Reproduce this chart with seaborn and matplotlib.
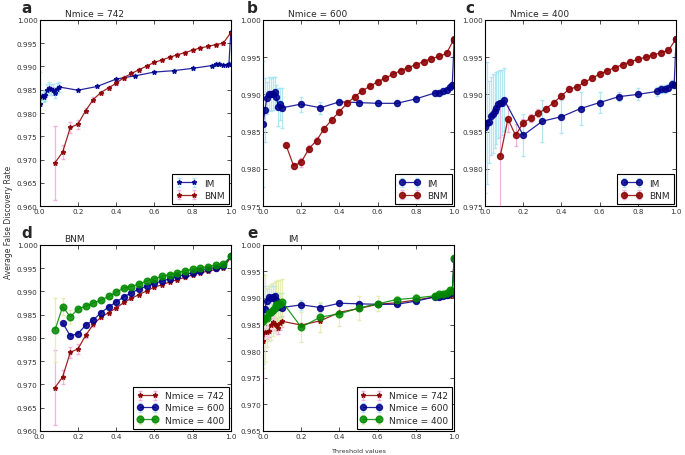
import matplotlib
matplotlib.use('Agg')
import matplotlib.pyplot as plt
import numpy as np
import seaborn as sns

# threshold grids
x_im = [0.0, 0.01, 0.02, 0.03, 0.04, 0.05, 0.06, 0.07, 0.08, 0.09, 0.10,
        0.2, 0.3, 0.4, 0.5, 0.6, 0.7, 0.8, 0.9, 0.92, 0.94, 0.96, 0.98, 0.99, 1.0]
x_bnm = [0.08, 0.12, 0.16, 0.20, 0.24, 0.28, 0.32, 0.36, 0.40, 0.44, 0.48, 0.52,
         0.56, 0.60, 0.64, 0.68, 0.72, 0.76, 0.80, 0.84, 0.88, 0.92, 0.96, 1.00]

# IM series
im742 = [0.9819, 0.9836, 0.9835, 0.9838, 0.9850, 0.9854, 0.9851, 0.9850, 0.9844, 0.9852, 0.9856,
         0.9849, 0.9857, 0.9873, 0.9880, 0.9888, 0.9891, 0.9896, 0.9902, 0.9905, 0.9906, 0.9903,
         0.9904, 0.9906, 0.9975]
im742_err = [0.0070, 0.0008, 0.0012, 0.0012, 0.0012, 0.0012, 0.0012, 0.0012, 0.0012, 0.0012, 0.0010,
             0.0003, 0.0003, 0.0003, 0.0003, 0.0003, 0.0003, 0.0003, 0.0003, 0.0003, 0.0003, 0.0003,
             0.0003, 0.0003, 0.0002]
im600 = [0.9860, 0.9879, 0.9895, 0.9901, 0.9900, 0.9901, 0.9903, 0.9897, 0.9883, 0.9887, 0.9882,
         0.9887, 0.9882, 0.9890, 0.9889, 0.9888, 0.9888, 0.9894, 0.9902, 0.9902, 0.9904, 0.9906,
         0.9910, 0.9912, 0.9973]
im600_err = [0.0085, 0.0043, 0.0022, 0.0022, 0.0022, 0.0022, 0.0020, 0.0015, 0.0025, 0.0022, 0.0027,
             0.0010, 0.0008, 0.0004, 0.0004, 0.0004, 0.0004, 0.0004, 0.0004, 0.0004, 0.0004, 0.0004,
             0.0004, 0.0004, 0.0002]
im400 = [0.9856, 0.9862, 0.9863, 0.9871, 0.9874, 0.9878, 0.9882, 0.9887, 0.9888, 0.9889, 0.9893,
         0.9845, 0.9864, 0.9870, 0.9881, 0.9889, 0.9897, 0.9900, 0.9904, 0.9907, 0.9907, 0.9909,
         0.9914, 0.9913, 0.9975]
im400_err = [0.0088, 0.0082, 0.0055, 0.0052, 0.0053, 0.0050, 0.0048, 0.0045, 0.0045, 0.0044, 0.0042,
             0.0028, 0.0028, 0.0022, 0.0022, 0.0014, 0.0006, 0.0008, 0.0006, 0.0005, 0.0005, 0.0005,
             0.0005, 0.0005, 0.0002]

# BNM series
bnm742 = [0.9693, 0.9716, 0.9769, 0.9776, 0.9805, 0.9829, 0.9844, 0.9854, 0.9864, 0.9876, 0.9885,
          0.9893, 0.9901, 0.9909, 0.9914, 0.9920, 0.9925, 0.9930, 0.9935, 0.9940, 0.9943, 0.9947,
          0.9950, 0.9973]
bnm742_err = [0.0080, 0.0015, 0.0012, 0.0010, 0.0006, 0.0005, 0.0004, 0.0004, 0.0004, 0.0004, 0.0004,
              0.0004, 0.0003, 0.0003, 0.0003, 0.0003, 0.0003, 0.0003, 0.0003, 0.0003, 0.0003, 0.0003,
              0.0003, 0.0002]
x_bnm600 = x_bnm[1:]
bnm600 = [0.9832, 0.9804, 0.9809, 0.9827, 0.9838, 0.9854, 0.9866, 0.9877, 0.9888, 0.9897,
          0.9905, 0.9911, 0.9917, 0.9922, 0.9927, 0.9932, 0.9936, 0.9940, 0.9944, 0.9948, 0.9951,
          0.9955, 0.9975]
bnm600_err = [0.0003, 0.0004, 0.0006, 0.0005, 0.0005, 0.0004, 0.0004, 0.0004, 0.0004, 0.0004,
              0.0003, 0.0003, 0.0003, 0.0003, 0.0003, 0.0003, 0.0003, 0.0003, 0.0003, 0.0003, 0.0003,
              0.0003, 0.0002]
bnm400 = [0.9817, 0.9867, 0.9845, 0.9862, 0.9868, 0.9875, 0.9881, 0.9889, 0.9898, 0.9907, 0.9910,
          0.9916, 0.9922, 0.9927, 0.9932, 0.9936, 0.9940, 0.9944, 0.9947, 0.9950, 0.9953, 0.9956,
          0.9959, 0.9975]
bnm400_err = [0.0068, 0.0018, 0.0015, 0.0005, 0.0005, 0.0005, 0.0004, 0.0004, 0.0004, 0.0004, 0.0004,
              0.0003, 0.0003, 0.0003, 0.0003, 0.0003, 0.0003, 0.0003, 0.0003, 0.0003, 0.0003, 0.0003,
              0.0003, 0.0002]

sns.set_theme(style='ticks')
plt.rcParams['font.family'] = ['DejaVu Sans']
plt.rcParams['xtick.direction'] = 'in'
plt.rcParams['ytick.direction'] = 'in'
plt.rcParams['xtick.top'] = True
plt.rcParams['ytick.right'] = True
plt.rcParams['axes.edgecolor'] = 'black'
plt.rcParams['axes.linewidth'] = 0.8

RED, BLUE, GREEN = '#8b0000', '#00008b', '#008a00'
PINK, CYAN, YEL = '#f2a6d8', '#a6e4f2', '#e4eca8'


def series(ax, x, y, err, color, ecolor, marker, ms, label):
    ax.errorbar(x, y, yerr=err, fmt='-' + marker, color=color, ecolor=ecolor,
                elinewidth=0.9, capsize=1.5, lw=0.9, ms=ms, mec=color,
                alpha=0.85, label=label)


fig = plt.figure(figsize=(6.85, 4.56), dpi=100)
W, H = 0.279, 0.408
axa = fig.add_axes([0.058, 0.546, W, H])
axb = fig.add_axes([0.384, 0.546, W, H])
axc = fig.add_axes([0.708, 0.546, W, H])
axd = fig.add_axes([0.058, 0.053, W, H])
axe = fig.add_axes([0.384, 0.053, W, H])

series(axa, x_im, im742, im742_err, BLUE, CYAN, '*', 3.5, 'IM')
series(axa, x_bnm, bnm742, bnm742_err, RED, PINK, '*', 3.5, 'BNM')
series(axb, x_im, im600, im600_err, BLUE, CYAN, 'o', 4.3, 'IM')
series(axb, x_bnm600, bnm600, bnm600_err, RED, PINK, 'o', 4.3, 'BNM')
series(axc, x_im, im400, im400_err, BLUE, CYAN, 'o', 4.3, 'IM')
series(axc, x_bnm, bnm400, bnm400_err, RED, PINK, 'o', 4.3, 'BNM')

series(axd, x_bnm, bnm742, bnm742_err, RED, PINK, '*', 3.5, 'Nmice = 742')
series(axd, x_bnm600, bnm600, bnm600_err, BLUE, CYAN, 'o', 4.3, 'Nmice = 600')
series(axd, x_bnm, bnm400, bnm400_err, GREEN, YEL, 'o', 4.8, 'Nmice = 400')
series(axe, x_im, im742, im742_err, RED, PINK, '*', 3.5, 'Nmice = 742')
series(axe, x_im, im600, im600_err, BLUE, CYAN, 'o', 4.3, 'Nmice = 600')
series(axe, x_im, im400, im400_err, GREEN, YEL, 'o', 4.8, 'Nmice = 400')

limits = {axa: 0.960, axb: 0.975, axc: 0.975, axd: 0.960, axe: 0.965}
titles = {axa: 'Nmice = 742', axb: 'Nmice = 600', axc: 'Nmice = 400', axd: 'BNM', axe: 'IM'}
letters = {axa: ('a', -0.095), axb: ('b', -0.083), axc: ('c', -0.104),
           axd: ('d', -0.095), axe: ('e', -0.083)}
for ax, lo in limits.items():
    ax.set_xlim(0, 1)
    ax.set_ylim(lo, 1.0)
    ax.set_xticks(np.arange(0, 1.01, 0.2))
    ax.set_yticks(np.arange(lo, 1.0001, 0.005))
    ax.xaxis.set_major_formatter(plt.FormatStrFormatter('%.1f'))
    ax.yaxis.set_major_formatter(plt.FormatStrFormatter('%.3f'))
    ax.tick_params(labelsize=5.2, length=3, width=0.6, pad=1.5, colors='#333333')
    ax.text(0.13, 1.012, titles[ax], transform=ax.transAxes, fontsize=6.5,
            ha='left', va='bottom')
    let, lx = letters[ax]
    ax.text(lx, 1.043, let, transform=ax.transAxes, fontsize=11,
            fontweight='bold', ha='left', va='baseline')
    leg = ax.legend(loc='lower right', fontsize=6.5, numpoints=2, fancybox=False,
                    framealpha=1, edgecolor='black', borderpad=0.45, labelspacing=0.35,
                    handlelength=2.3, borderaxespad=0.25)
    leg.get_frame().set_linewidth(0.8)

fig.text(0.006, 0.513, 'Average False Discovery Rate', rotation=90, fontsize=5.5,
         ha='left', va='center', color='#333333')
fig.text(359 / 685, 1 - 452 / 456, 'Threshold values', fontsize=4.6,
         ha='center', va='center', color='#333333')

fig.savefig('out.png', dpi=100)
